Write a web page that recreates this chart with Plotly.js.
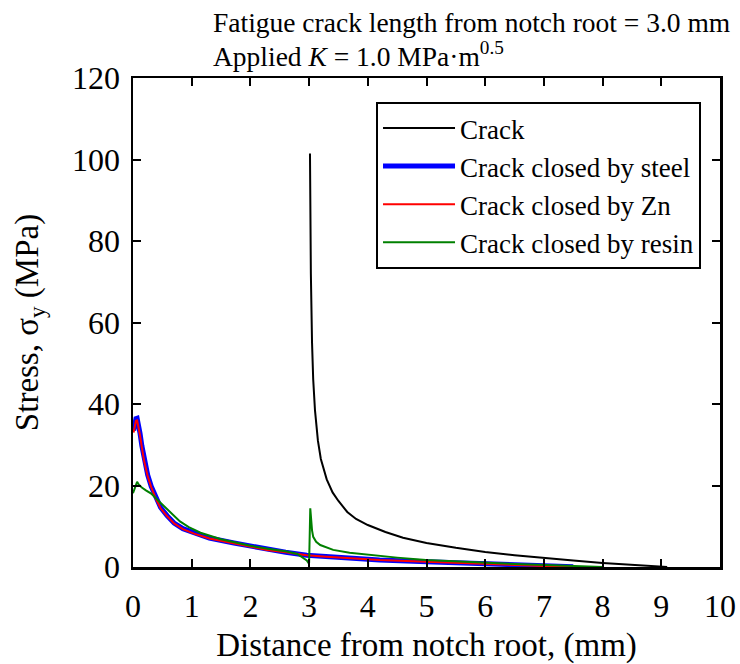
<!DOCTYPE html>
<html>
<head>
<meta charset="utf-8">
<script src="https://cdn.plot.ly/plotly-3.0.1.min.js"></script>
<style>html,body{margin:0;padding:0;background:#fff;}#chart{width:740px;height:664px;}</style>
</head>
<body>
<div id="chart"></div>
<script>
// Crack (open)
const crackX = [3.015, 3.02, 3.03, 3.05, 3.07, 3.1, 3.15, 3.2, 3.3, 3.4, 3.5, 3.65, 3.8, 4.0, 4.3, 4.6, 5.0, 5.5, 6.0, 6.5, 7.0, 7.5, 8.0, 8.5, 9.0, 9.1];
const crackY = [101.5, 88, 72, 55, 46, 38.5, 31, 26.5, 21.5, 18.3, 16.2, 13.5, 11.8, 10.3, 8.6, 7.2, 5.9, 4.7, 3.7, 2.9, 2.2, 1.6, 1.0, 0.55, 0.15, 0];
// Crack closed by steel
const steelX = [0.01, 0.03, 0.05, 0.07, 0.09, 0.12, 0.15, 0.19, 0.25, 0.31, 0.4, 0.47, 0.58, 0.7, 0.85, 1.04, 1.3, 1.72, 2.0, 2.28, 2.6, 2.96, 3.3, 3.69, 4.2, 5.0, 5.5, 6.0, 6.5, 7.0, 7.5];
const steelY = [33.5, 35.6, 36.4, 36.5, 35.3, 32.8, 29.8, 26.4, 22.6, 19.8, 16.6, 14.6, 12.6, 10.8, 9.4, 8.3, 7.1, 5.9, 5.1, 4.3, 3.6, 2.9, 2.5, 2.1, 1.7, 1.3, 1.0, 0.7, 0.45, 0.25, 0.05];
// Crack closed by Zn
const znX = [0.01, 0.03, 0.05, 0.07, 0.09, 0.12, 0.15, 0.19, 0.25, 0.31, 0.4, 0.47, 0.58, 0.7, 0.85, 1.04, 1.3, 1.72, 2.0, 2.28, 2.6, 2.96, 3.3, 3.69, 4.2, 5.0, 5.5, 6.0, 6.5, 7.0, 7.5];
const znY = [33.0, 35.1, 35.9, 36.0, 34.8, 32.3, 29.4, 26.0, 22.3, 19.6, 16.4, 14.4, 12.5, 10.7, 9.3, 8.2, 7.0, 5.8, 5.0, 4.2, 3.6, 2.9, 2.5, 2.1, 1.7, 1.3, 1.0, 0.7, 0.45, 0.25, 0.05];
// Crack closed by resin
const resinX = [0.0, 0.03, 0.07, 0.1, 0.15, 0.22, 0.31, 0.45, 0.59, 0.67, 0.8, 0.95, 1.15, 1.5, 2.0, 2.3, 2.62, 2.8, 2.9, 2.96, 2.99, 3.0, 3.02, 3.03, 3.05, 3.07, 3.12, 3.19, 3.3, 3.41, 3.69, 4.0, 4.5, 4.99, 5.5, 6.0, 6.5, 7.03, 7.5, 8.0];
const resinY = [18.1, 19.5, 20.9, 20.2, 19.5, 18.8, 18.0, 16.0, 14.0, 12.8, 11.2, 9.8, 8.4, 6.8, 5.2, 4.5, 3.8, 3.2, 2.3, 1.6, 1.0, 0.9, 14.4, 12.0, 9.0, 7.4, 6.2, 5.4, 4.8, 4.2, 3.5, 3.0, 2.3, 1.7, 1.35, 1.05, 0.75, 0.5, 0.25, 0.0];

const seriesNames = ["Crack", "Crack closed by steel", "Crack closed by Zn", "Crack closed by resin"];
const xTicks = [0, 1, 2, 3, 4, 5, 6, 7, 8, 9, 10];
const yTicks = [0, 20, 40, 60, 80, 100, 120];

const serif = "Liberation Serif";

const traces = [
  {x: crackX, y: crackY, name: seriesNames[0], mode: "lines", line: {color: "#000000", width: 2}},
  {x: steelX, y: steelY, name: seriesNames[1], mode: "lines", line: {color: "#0000ff", width: 5}},
  {x: znX, y: znY, name: seriesNames[2], mode: "lines", line: {color: "#ff0000", width: 2}},
  {x: resinX, y: resinY, name: seriesNames[3], mode: "lines", line: {color: "#008000", width: 2}}
];

const axisCommon = {
  showline: true, linecolor: "#000", linewidth: 2.5, mirror: "ticks",
  ticks: "inside", ticklen: 8, tickwidth: 2, tickcolor: "#000",
  showgrid: false, zeroline: false,
  tickfont: {family: serif, size: 32, color: "#000"}
};

const layout = {
  width: 740, height: 664,
  margin: {l: 133, r: 20, t: 78, b: 97},
  paper_bgcolor: "#fff", plot_bgcolor: "#fff",
  font: {family: serif, color: "#000"},
  showlegend: true,
  legend: {
    x: 0.414, y: 0.951, xanchor: "left", yanchor: "top",
    bordercolor: "#000", borderwidth: 2, bgcolor: "#fff",
    font: {family: serif, size: 27, color: "#000"},
    itemwidth: 72,
    tracegroupgap: 0
  },
  xaxis: Object.assign({}, axisCommon, {
    range: [0, 10], tickvals: xTicks, ticktext: xTicks.map(String),
    ticklabelstandoff: 9,
    title: {text: "Distance from notch root, (mm)", font: {family: serif, size: 33, color: "#000"}, standoff: 10}
  }),
  yaxis: Object.assign({}, axisCommon, {
    range: [0, 120], tickvals: yTicks, ticktext: yTicks.map(String),
    ticklabelstandoff: 4,
    title: {text: "Stress, σ<sub>y</sub> (MPa)", font: {family: serif, size: 33, color: "#000"}, standoff: 24}
  }),
  annotations: [
    {text: "Fatigue crack length from notch root = 3.0 mm", xref: "paper", yref: "paper",
     x: (211 - 133) / 587, y: (567 - 22) / 489, xanchor: "left", yanchor: "middle", showarrow: false,
     font: {family: serif, size: 27.5, color: "#000"}},
    {text: "Applied <i>K</i> = 1.0 MPa·m<sup>0.5</sup>", xref: "paper", yref: "paper",
     x: (211 - 133) / 587, y: (567 - 54) / 489, xanchor: "left", yanchor: "middle", showarrow: false,
     font: {family: serif, size: 27.5, color: "#000"}}
  ]
};

Plotly.newPlot("chart", traces, layout, {displayModeBar: false, staticPlot: true});
</script>
</body>
</html>
